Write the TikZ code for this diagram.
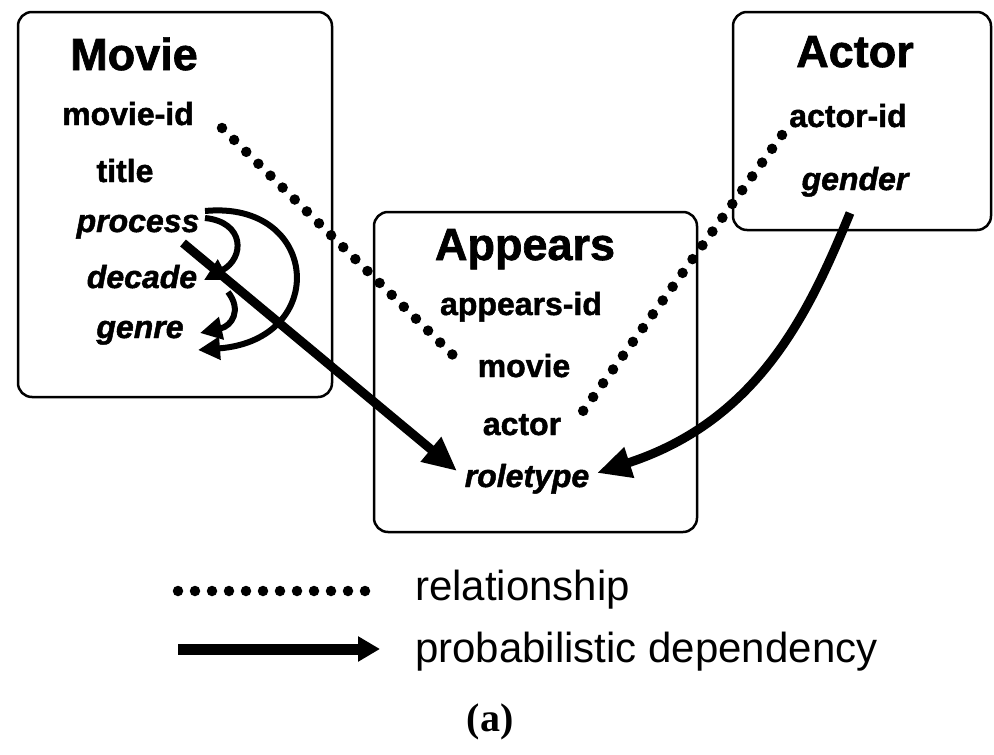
\documentclass[tikz,border=0pt]{standalone}
\usepackage{fontspec}
\setmainfont{Liberation Sans}
\newfontfamily\heavyfont[BoldFeatures={FakeBold=1.5},BoldItalicFeatures={FakeBold=1.5}]{Liberation Sans}
\newfontfamily\serifbold{Liberation Serif}
\usetikzlibrary{arrows.meta}
\begin{document}
\begin{tikzpicture}[x=1pt,y=-1pt,
  box/.style={draw,line width=2.5pt,rounded corners=14pt},
  ttl/.style={font=\heavyfont\bfseries\fontsize{45}{45}\selectfont,anchor=base,inner sep=0pt},
  att/.style={font=\heavyfont\bfseries\fontsize{32}{32}\selectfont,anchor=base,inner sep=0pt},
  patt/.style={font=\heavyfont\bfseries\itshape\fontsize{32}{32}\selectfont,anchor=base,inner sep=0pt},
  leg/.style={font=\fontsize{42}{42}\selectfont,anchor=base west,inner sep=0pt},
  rel/.style={line width=10.5pt,line cap=round,dash pattern=on 0pt off 17pt},
  dep/.style={line width=9pt,-{Triangle[length=34pt,width=30pt]}},
  sdep/.style={line width=6pt,-{Triangle[length=22pt,width=22pt]}}
]
\useasboundingbox (0,0) rectangle (994,755);
% boxes
\draw[box] (18,12) rectangle (332,397);
\draw[box] (374,212) rectangle (697,532);
\draw[box] (733,12) rectangle (991,230);
% Movie
\node[ttl] (movie) at (134,70) {Movie};
\node[att] (movieid) at (128,125) {movie-id};
\node[att] (title) at (125,182) {title};
\node[patt] (process) at (138,232) {process};
\node[patt] (decade) at (142,288) {decade};
\node[patt] (genre) at (140,338) {genre};
% Appears
\node[ttl] (appears) at (525,260) {Appears};
\node[att] (appearsid) at (521,315) {appears-id};
\node[att] (amovie) at (524,377) {movie};
\node[att] (aactor) at (522,435) {actor};
\node[patt] (roletype) at (527,487) {roletype};
% Actor
\node[ttl] (actor) at (855,67) {Actor};
\node[att] (actorid) at (848,127) {actor-id};
\node[patt] (gender) at (855,190) {gender};
% relationship connectors
\coordinate (r1a) at (222,128);
\coordinate (r1b) at (460,362);
\coordinate (r2a) at (782,135);
\coordinate (r2b) at (578,418);
\draw[rel] (r1a) -- (r1b);
\draw[rel] (r2a) -- (r2b);
% dependencies
\coordinate (p1) at (205,218);
\coordinate (d1) at (204,280);
\coordinate (d2) at (228,292);
\coordinate (g1) at (200,333);
\coordinate (p2) at (205,211);
\coordinate (g2) at (198,350);
\coordinate (s0) at (183,243);
\coordinate (rt) at (457,471);
\coordinate (gs) at (850,213);
\coordinate (rt2) at (597,473);
\draw[sdep] (p1) .. controls (245,222) and (245,258) .. (d1);
\draw[sdep] (d2) .. controls (242,310) and (232,326) .. (g1);
\draw[sdep] (p2) .. controls (320,200) and (330,340) .. (g2);
\draw[dep] (s0) -- (rt);
\draw[dep] (gs) .. controls (810,310) and (760,420) .. (rt2);
% legend
\coordinate (l1a) at (178,591);
\coordinate (l1b) at (372,591);
\draw[rel] (l1a) -- (l1b);
\node[leg] (lrel) at (415,600) {relationship};
\coordinate (l2a) at (178,649);
\coordinate (l2b) at (380,649);
\draw[line width=11pt,-{Triangle[length=22pt,width=24pt]}] (l2a) -- (l2b);
\node[leg] (ldep) at (415,662) {probabilistic dependency};
\node[font=\serifbold\bfseries\fontsize{40}{40}\selectfont,anchor=base,inner sep=0pt] (cap) at (490,731) {(a)};
\end{tikzpicture}
\end{document}
